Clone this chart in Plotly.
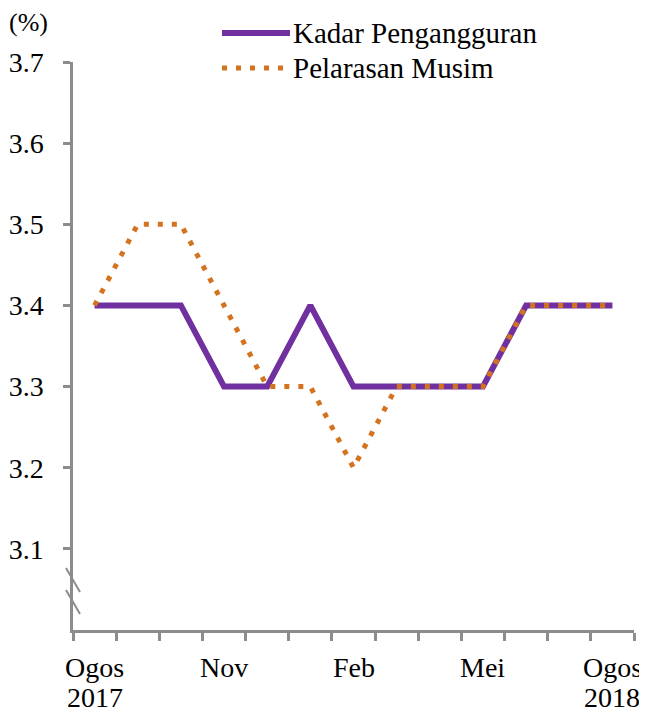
import plotly.graph_objects as go

months = ["Ogos 2017", "Sep", "Okt", "Nov", "Dis", "Jan", "Feb", "Mac", "Apr", "Mei", "Jun", "Jul", "Ogos 2018"]
kadar = [3.4, 3.4, 3.4, 3.3, 3.3, 3.4, 3.3, 3.3, 3.3, 3.3, 3.4, 3.4, 3.4]
pelarasan = [3.4, 3.5, 3.5, 3.4, 3.3, 3.3, 3.2, 3.3, 3.3, 3.3, 3.4, 3.4, 3.4]
label_idx = [0, 3, 6, 9, 12]
label_line1 = ["Ogos", "Nov", "Feb", "Mei", "Ogos"]
label_line2 = ["2017", "", "", "", "2018"]
y_ticks = [3.1, 3.2, 3.3, 3.4, 3.5, 3.6, 3.7]

PURPLE = "#7030A0"
ORANGE = "#D4731F"
AXIS = "#8C8C8C"
FONT = "Times New Roman, Liberation Serif, serif"
FS = 28
FS_LEG = 29

OFF = 8  # page body margin
W, H = 647 - OFF, 715 - OFF
L, R, T, B = 73 - OFF, 13, 62 - OFF, 85
PW, PH = W - L - R, H - T - B


def px2paper_x(px):
    return (px - OFF - L) / PW


def py2paper_y(py):
    return (H - B - (py - OFF)) / PH


xs = list(range(len(months)))
fig = go.Figure()
fig.add_trace(go.Scatter(x=xs, y=kadar, mode="lines", name="Kadar Pengangguran",
                         line=dict(color=PURPLE, width=6), showlegend=False))
fig.add_trace(go.Scatter(x=xs, y=pelarasan, mode="lines", name="Pelarasan Musim",
                         line=dict(color=ORANGE, width=5, dash="5px,9px"), showlegend=False))

shapes = []
annotations = []

# legend
shapes.append(dict(type="line", xref="paper", yref="paper",
                   x0=px2paper_x(222), x1=px2paper_x(290), y0=py2paper_y(33), y1=py2paper_y(33),
                   line=dict(color=PURPLE, width=6)))
shapes.append(dict(type="line", xref="paper", yref="paper",
                   x0=px2paper_x(222), x1=px2paper_x(290), y0=py2paper_y(68), y1=py2paper_y(68),
                   line=dict(color=ORANGE, width=5, dash="5px,9px")))
annotations.append(dict(xref="paper", yref="paper", x=px2paper_x(291), y=py2paper_y(33),
                        xanchor="left", yanchor="middle", text="Kadar Pengangguran",
                        showarrow=False, font=dict(family=FONT, size=FS_LEG, color="black")))
annotations.append(dict(xref="paper", yref="paper", x=px2paper_x(291), y=py2paper_y(68),
                        xanchor="left", yanchor="middle", text="Pelarasan Musim",
                        showarrow=False, font=dict(family=FONT, size=FS_LEG, color="black")))

# y unit
annotations.append(dict(xref="paper", yref="paper", x=px2paper_x(7), y=py2paper_y(23),
                        xanchor="left", yanchor="middle", text="(%)",
                        showarrow=False, font=dict(family=FONT, size=26, color="black")))

# x labels
for i, a, b in zip(label_idx, label_line1, label_line2):
    annotations.append(dict(xref="x", yref="paper", x=i, y=py2paper_y(667),
                            xanchor="center", yanchor="middle", text=a,
                            showarrow=False, font=dict(family=FONT, size=FS, color="black")))
    if b:
        annotations.append(dict(xref="x", yref="paper", x=i, y=py2paper_y(697),
                                xanchor="center", yanchor="middle", text=b,
                                showarrow=False, font=dict(family=FONT, size=FS, color="black")))

# axis break marks
for (ya, yb) in [(568, 592), (590, 614)]:
    shapes.append(dict(type="line", xref="paper", yref="paper",
                       x0=px2paper_x(66), x1=px2paper_x(80), y0=py2paper_y(ya), y1=py2paper_y(yb),
                       line=dict(color=AXIS, width=2)))

fig.update_layout(
    width=W, height=H,
    margin=dict(l=L, r=R, t=T, b=B, pad=0, autoexpand=False),
    paper_bgcolor="white", plot_bgcolor="white",
    font=dict(family=FONT, size=FS, color="black"),
    shapes=shapes, annotations=annotations,
    xaxis=dict(range=[-0.5, 12.5], tickmode="array",
               tickvals=[i - 0.5 for i in range(len(months) + 1)],
               showticklabels=False, ticks="outside", ticklen=8, tickwidth=2.5,
               tickcolor=AXIS, showline=True, linecolor=AXIS, linewidth=2.5,
               showgrid=False, zeroline=False, fixedrange=True, automargin=False),
    yaxis=dict(range=[3.0, 3.7], tickmode="array", tickvals=y_ticks,
               ticktext=[f"{v:.1f}" for v in y_ticks],
               ticks="outside", ticklen=7, tickwidth=2.5, tickcolor=AXIS,
               showline=True, linecolor=AXIS, linewidth=2.5, showgrid=False,
               zeroline=False, ticklabelstandoff=14, automargin=False,
               tickfont=dict(family=FONT, size=FS, color="black")),
)

fig.write_html("out.html")
